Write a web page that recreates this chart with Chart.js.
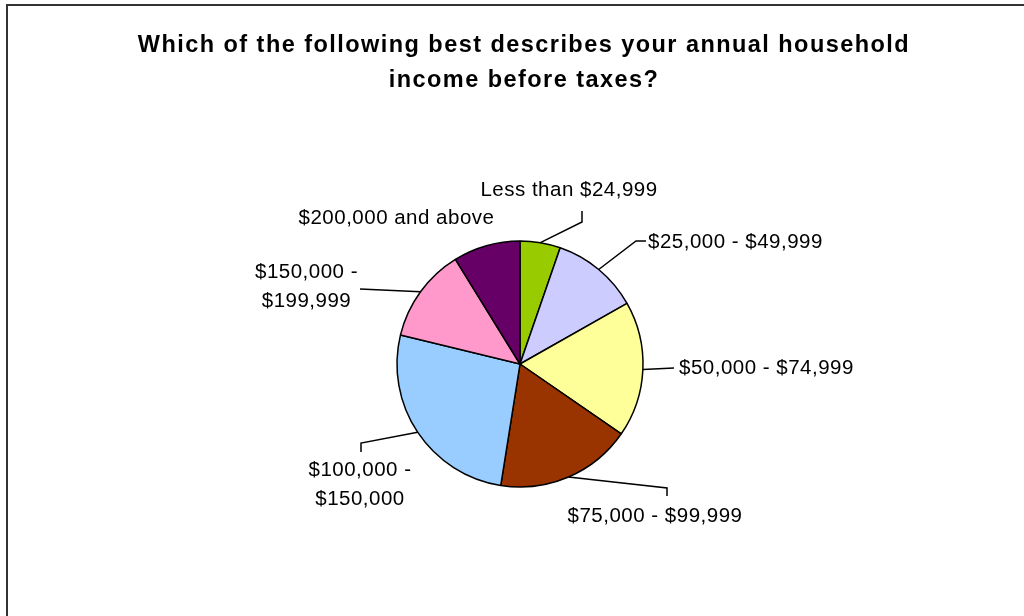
<!DOCTYPE html>
<html>
<head>
<meta charset="utf-8">
<script src="https://cdn.jsdelivr.net/npm/chart.js@4.4.1/dist/chart.umd.min.js"></script>
<style>
  html, body { margin: 0; padding: 0; background: #fff; }
  #wrap { position: relative; width: 1024px; height: 616px; }
  #frame { position: absolute; left: 6px; top: 4px; right: -10px; bottom: -10px;
           border-left: 2px solid #333; border-top: 2px solid #333; pointer-events: none; }
  canvas { position: absolute; left: 0; top: 0; }
</style>
</head>
<body>
<div id="wrap">
  <canvas id="incomeChart" width="1024" height="616"></canvas>
  <div id="frame"></div>
</div>
<script>
// data (share of respondents, %)
const categories = [
    'Less than $24,999',
    '$25,000 - $49,999',
    '$50,000 - $74,999',
    '$75,000 - $99,999',
    ['$100,000 -', '$150,000'],
    ['$150,000 -', '$199,999'],
    '$200,000 and above'
];
const shares = [5.3, 11.5, 17.8, 17.9, 26.3, 12.4, 8.8];
const sliceColors = ['#99CC00', '#CCCCFF', '#FFFF99', '#993300', '#99CCFF', '#FF99CC', '#660066'];

// label placement relative to the pie centre: leader line points + text anchor
const labelLayout = [
    { line: [[62, -142], [62, -153]], text: [49, -174], align: 'center' },
    { line: [[116, -123], [126, -123]], text: [128, -122], align: 'left' },
    { line: [[154, 4]], text: [159, 4], align: 'left' },
    { line: [[147, 124], [147, 132]], text: [135, 152], align: 'center' },
    { line: [[-159, 79], [-159, 88]], text: [-160, 106], align: 'center' },
    { line: [[-160, -75]], text: [-213.5, -92], align: 'center' },
    { line: [], text: [-123.5, -146], align: 'center' }
];

// wider title lettering, nudged right like the original
const titleStyle = {
    id: 'titleStyle',
    beforeDraw(chart) {
        chart.ctx.save();
        chart.ctx.translate(4, 0);
        chart.ctx.letterSpacing = '1.45px';
    },
    beforeDatasetsDraw(chart) {
        chart.ctx.restore();
    }
};

const pieLabels = {
    id: 'pieLabels',
    afterDatasetsDraw(chart) {
        const ctx = chart.ctx;
        const arcs = chart.getDatasetMeta(0).data;
        ctx.save();
        ctx.strokeStyle = '#000';
        ctx.lineWidth = 1.5;
        ctx.fillStyle = '#000';
        ctx.font = '20.5px "Liberation Sans", Arial, sans-serif';
        ctx.letterSpacing = '0.5px';
        ctx.textBaseline = 'middle';
        arcs.forEach(function (arc, i) {
            const p = arc.getProps(['x', 'y', 'startAngle', 'endAngle', 'outerRadius'], true);
            const lay = labelLayout[i];
            const mid = (p.startAngle + p.endAngle) / 2;
            if (lay.line.length) {
                ctx.beginPath();
                ctx.moveTo(p.x + Math.cos(mid) * p.outerRadius, p.y + Math.sin(mid) * p.outerRadius);
                lay.line.forEach(function (pt) { ctx.lineTo(p.x + pt[0], p.y + pt[1]); });
                ctx.stroke();
            }
            const lines = [].concat(categories[i]);
            ctx.textAlign = lay.align;
            lines.forEach(function (t, k) {
                ctx.fillText(t, p.x + lay.text[0], p.y + lay.text[1] + k * 29);
            });
        });
        ctx.restore();
    }
};

document.addEventListener("DOMContentLoaded", function () {
    const canvas = document.getElementById("incomeChart");
    const ctx = canvas.getContext("2d");
    new Chart(ctx, {
        type: 'pie',
        data: {
            labels: categories,
            datasets: [{
                data: shares,
                backgroundColor: sliceColors,
                borderColor: '#000',
                borderWidth: 1.5
            }]
        },
        options: {
            responsive: false,
            animation: false,
            radius: 123,
            layout: { padding: { left: 16, right: 0, top: 0, bottom: 0 } },
            plugins: {
                legend: { display: false },
                tooltip: { enabled: false },
                title: {
                    display: true,
                    text: ['Which of the following best describes your annual household', 'income before taxes?'],
                    color: '#000',
                    font: { family: '"Liberation Sans", Arial, sans-serif', size: 23.5, weight: 'bold', lineHeight: 35 / 23.5 },
                    padding: { top: 28, bottom: 14 }
                }
            }
        },
        plugins: [titleStyle, pieLabels]
    });
});
</script>
</body>
</html>
